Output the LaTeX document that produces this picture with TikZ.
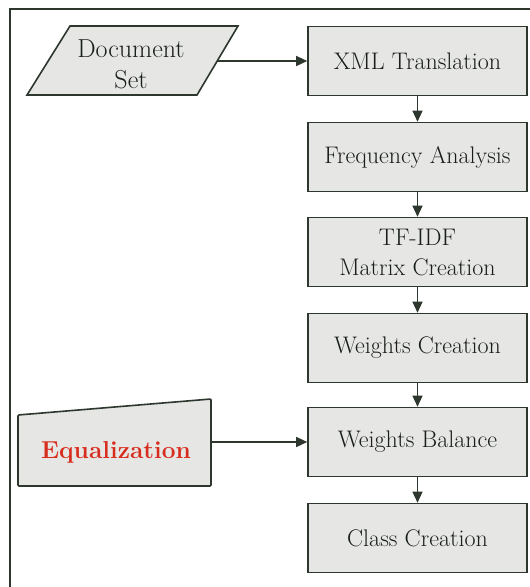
\documentclass[tikz,border=0pt]{standalone}
\usepackage{fontspec}
\usetikzlibrary{arrows.meta}
\definecolor{boxfill}{RGB}{230,231,229}
\definecolor{edge}{RGB}{45,55,45}
\definecolor{eqred}{RGB}{215,45,30}
\definecolor{txt}{RGB}{25,30,25}
\tikzset{
  procbox/.style={draw=edge, line width=1.6pt, fill=boxfill, rectangle,
    minimum width=219pt, minimum height=69pt, inner sep=0pt, align=center,
    font=\rmfamily\fontsize{24}{30}\selectfont, text=txt},
  conn/.style={draw=edge, line width=1.3pt, -{Triangle[length=11pt,width=10pt]}},
  shapeline/.style={draw=edge, line width=1.6pt, fill=boxfill}
}
\begin{document}
\begin{tikzpicture}[x=1pt,y=-1pt]
\useasboundingbox (0,0) rectangle (530,587);
\fill[white] (0,0) rectangle (530,587);
% frame
\draw[edge, line width=1.6pt] (530,9) -- (10,9) -- (10,587);
% document set parallelogram
\draw[shapeline] (70,26) -- (238,26) -- (197,95) -- (27,95) -- cycle;
\node[align=center, font=\rmfamily\fontsize{26}{31}\selectfont, text=txt] (ds) at (131,64) {Document\\Set};
\coordinate (dsr) at (217,61);
% equalization manual input
\draw[shapeline, rounded corners=1pt] (18,415) -- (211,399) -- (211,486) -- (18,486) -- cycle;
\node[font=\rmfamily\fontsize{24.5}{30}\selectfont\bfseries, text=eqred] (eq) at (116,452) {Equalization};
\coordinate (eqr) at (211,442);
% boxes
\node[procbox] (xml) at (417.5,61) {XML Translation};
\node[procbox] (freq) at (417.5,157) {Frequency Analysis};
\node[procbox] (tf) at (417.5,252) {TF-IDF\\Matrix Creation};
\node[procbox] (wc) at (417.5,348) {Weights Creation};
\node[procbox] (wb) at (417.5,442) {Weights Balance};
\node[procbox] (cc) at (417.5,538) {Class Creation};
% connectors
\draw[conn] (dsr) -- (xml.west);
\draw[conn] (eqr) -- (wb.west);
\draw[conn] (xml) -- (freq);
\draw[conn] (freq) -- (tf);
\draw[conn] (tf) -- (wc);
\draw[conn] (wc) -- (wb);
\draw[conn] (wb) -- (cc);
\end{tikzpicture}
\end{document}
